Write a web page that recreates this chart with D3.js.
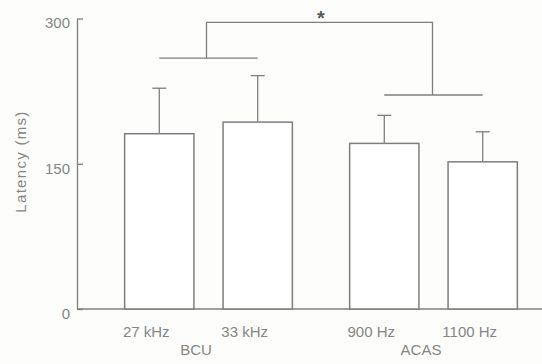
<!DOCTYPE html>
<html>
<head>
<meta charset="utf-8">
<script src="https://cdn.jsdelivr.net/npm/d3@7"></script>
<style>
  html, body { margin: 0; padding: 0; background: #fdfdfb; }
  svg { display: block; }
  text { font-family: "Liberation Sans", Arial, Helvetica, sans-serif; fill: #858585; }
</style>
</head>
<body>
<svg id="chart" width="542" height="364"></svg>
<script>
// Stimulus conditions, their group, mean latency and SD (ms)
const categories = ["27 kHz", "33 kHz", "900 Hz", "1100 Hz"];
const groupOf    = ["BCU", "BCU", "ACAS", "ACAS"];
const groups     = ["BCU", "ACAS"];
const means      = [181, 193, 171, 152];
const sds        = [47, 48, 29, 31];
const yTicks     = [0, 150, 300];
// Significance bracket: group bars (ms level per group), top bar and its mark
const groupBarLevels = [259, 221];
const topBarLevel    = 296;
const sigMark        = "*";

const data = categories.map((c, i) => ({
  name: c, group: groupOf[i], mean: means[i], sd: sds[i],
  idx: groupOf.slice(0, i).filter(g => g === groupOf[i]).length
}));

const svg = d3.select("#chart");
const lineColor = "#7e7e7e";

const axisX = 77, baseY = 309, topY = 18.5, rightEdge = 542;

const y = d3.scaleLinear().domain([0, 300]).range([baseY, topY]);

// Outer scale for the two groups, inner scale for the bars inside each group
const xGroup = d3.scaleBand().domain(groups).range([96, 546]).padding(0);
const xInner = d3.scaleBand().domain([0, 1]).range([0, xGroup.bandwidth()])
  .paddingInner(0.296).paddingOuter(0.291);

const barLeft = d => xGroup(d.group) + xInner(d.idx);
const barMid  = d => barLeft(d) + xInner.bandwidth() / 2;
const groupMid = g => xGroup(g) + xGroup.bandwidth() / 2;

// Y axis with inward ticks
const yAxis = d3.axisLeft(y).tickValues(yTicks).tickSize(-6).tickSizeOuter(0).tickPadding(7);
const gy = svg.append("g").attr("transform", `translate(${axisX},0)`).call(yAxis);
gy.select(".domain").attr("stroke", lineColor).attr("stroke-width", 1.3);
gy.selectAll(".tick line").attr("stroke", lineColor).attr("stroke-width", 1.3);
gy.selectAll(".tick text")
  .attr("font-size", 15).attr("dy", "0.62em").style("fill", "#858585")
  .attr("font-family", "Liberation Sans, Arial, sans-serif");

// Baseline
svg.append("line")
  .attr("x1", axisX).attr("x2", rightEdge)
  .attr("y1", y(0)).attr("y2", y(0))
  .attr("stroke", lineColor).attr("stroke-width", 1.5);

// Error bars (upper whisker only)
const eb = svg.append("g").attr("stroke", lineColor).attr("stroke-width", 1.3);
eb.selectAll("line.stem").data(data).join("line")
  .attr("class", "stem")
  .attr("x1", barMid).attr("x2", barMid)
  .attr("y1", d => y(d.mean)).attr("y2", d => y(d.mean + d.sd));
eb.selectAll("line.cap").data(data).join("line")
  .attr("class", "cap")
  .attr("x1", d => barMid(d) - 7).attr("x2", d => barMid(d) + 7)
  .attr("y1", d => y(d.mean + d.sd)).attr("y2", d => y(d.mean + d.sd));

// Bars
svg.append("g").selectAll("rect").data(data).join("rect")
  .attr("x", barLeft)
  .attr("y", d => y(d.mean))
  .attr("width", xInner.bandwidth())
  .attr("height", d => y(0) - y(d.mean))
  .attr("fill", "#ffffff")
  .attr("stroke", lineColor)
  .attr("stroke-width", 1.5);

// Significance bracket
const br = svg.append("g").attr("stroke", lineColor).attr("stroke-width", 1.3).attr("fill", "none");
groups.forEach((g, gi) => {
  const members = data.filter(d => d.group === g);
  br.append("line")
    .attr("x1", barMid(members[0])).attr("x2", barMid(members[members.length - 1]))
    .attr("y1", y(groupBarLevels[gi])).attr("y2", y(groupBarLevels[gi]));
});
br.append("path")
  .attr("d", d3.line()([
    [groupMid(groups[0]) - 2, y(groupBarLevels[0])],
    [groupMid(groups[0]) - 2, y(topBarLevel)],
    [groupMid(groups[1]) - 1, y(topBarLevel)],
    [groupMid(groups[1]) - 1, y(groupBarLevels[1])]
  ]));
svg.append("text")
  .attr("x", (groupMid(groups[0]) + groupMid(groups[1])) / 2)
  .attr("y", y(topBarLevel) + 3)
  .attr("text-anchor", "middle")
  .attr("font-size", 20)
  .attr("font-weight", "bold")
  .style("fill", "#5a5a5a")
  .text(sigMark);

// Category labels
svg.append("g").selectAll("text").data(data).join("text")
  .attr("x", d => barMid(d) - 13)
  .attr("y", 336.5)
  .attr("text-anchor", "middle")
  .attr("font-size", 15)
  .text(d => d.name);

// Group labels
svg.append("g").selectAll("text").data(groups).join("text")
  .attr("x", g => groupMid(g) - 12.5)
  .attr("y", 355)
  .attr("text-anchor", "middle")
  .attr("font-size", 15)
  .text(g => g);

// Y axis title
svg.append("text")
  .attr("transform", `translate(26,161.5) rotate(-90)`)
  .attr("text-anchor", "middle")
  .attr("font-size", 15)
  .attr("letter-spacing", 1.3)
  .text("Latency (ms)");
</script>
</body>
</html>
